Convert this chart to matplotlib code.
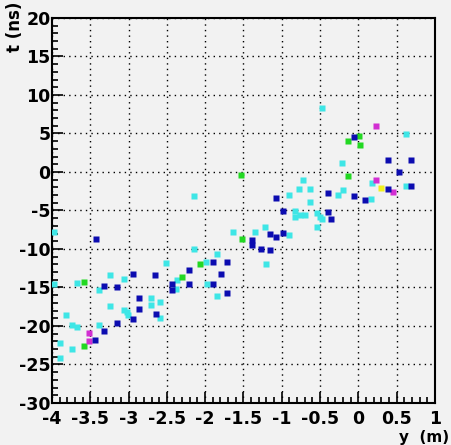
import matplotlib
matplotlib.use('Agg')
import matplotlib.pyplot as plt
from matplotlib.ticker import MultipleLocator

# hits, grouped by marker colour: position y (m) and time t (ns)
blue_y = [-3.43, -3.32, -3.15, -2.94, -2.66, -2.43, -2.43, -2.21, -2.21, -1.90,
          -1.79, -1.90, -1.72, -1.72, -3.44, -3.32, -3.15, -2.94, -2.86, -2.86,
          -2.64, -1.39, -1.39, -1.27, -1.15, -1.15, -1.08, -0.98, -1.08, -0.98,
          -0.40, -0.40, -0.35, -0.06, -0.06, 0.09, 0.39, 0.69, 0.53, 0.39, 0.69]
blue_t = [-8.7, -14.8, -14.9, -13.2, -13.4, -14.5, -15.3, -12.7, -14.5, -11.7,
          -13.2, -14.5, -11.7, -15.7, -21.8, -20.6, -19.6, -19.1, -16.4, -17.8,
          -18.4, -8.8, -9.5, -10.0, -10.1, -8.1, -8.4, -7.9, -3.4, -5.1,
          -2.7, -5.2, -6.1, 4.5, -3.1, -3.6, 1.6, 1.6, 0.0, -2.2, -1.8]

cyan_y = [-3.97, -3.97, -3.67, -3.39, -3.24, -3.06, -2.51, -2.38, -2.37, -2.15,
          -1.99, -1.85, -1.98, -1.85, -3.82, -3.74, -3.67, -3.90, -3.74, -3.90,
          -3.39, -3.24, -3.06, -3.02, -3.01, -2.71, -2.71, -2.59, -2.59, -2.15,
          -1.64, -1.35, -1.22, -0.91, -0.54, -1.21, -0.48, 0.62, -0.21, -0.72,
          -0.78, -0.63, -0.20, -0.27, -0.91, -0.63, -0.83, -0.83, -0.76, -0.70,
          -0.54, -0.50, -0.48, 0.18, 0.62, 0.16]
cyan_t = [-7.8, -14.5, -14.4, -15.3, -13.4, -13.9, -11.8, -15.2, -14.0, -10.0,
          -11.7, -10.6, -14.5, -16.1, -18.6, -19.9, -20.1, -22.2, -23.0, -24.2,
          -19.9, -17.4, -17.9, -18.2, -18.6, -16.4, -17.3, -16.9, -19.0, -3.1,
          -7.8, -7.8, -7.1, -8.2, -7.1, -11.9, 8.3, 4.9, 1.2, -1.0,
          -2.2, -2.2, -2.3, -3.0, -3.0, -3.9, -5.1, -5.8, -5.6, -5.6,
          -5.3, -5.8, -6.1, -1.4, -1.8, -3.5]

green_y = [-3.58, -3.58, -2.30, -2.07, -1.52, -1.53, -0.14, 0.01, 0.02, -0.14]
green_t = [-14.3, -22.6, -13.6, -11.9, -8.7, -0.4, 4.0, 4.7, 3.5, -0.5]

magenta_y = [-3.52, -3.52, 0.23, 0.23, 0.45]
magenta_t = [-20.9, -21.9, 6.0, -1.0, -2.6]

yellow_y = [0.30]
yellow_t = [-2.1]

bg = '#f2f2f2'
fig = plt.figure(figsize=(4.52, 4.45), dpi=100, facecolor=bg)
ax = fig.add_axes([0.115, 0.0944, 0.847, 0.8652], facecolor=bg)

groups = [(cyan_y, cyan_t, '#3ee6e6'), (green_y, green_t, '#22d822'),
          (yellow_y, yellow_t, '#f0f020'), (magenta_y, magenta_t, '#d22ed2'),
          (blue_y, blue_t, '#0c0cb0')]
for yy, tt, col in groups:
    ax.plot(yy, tt, 's', ms=5, color=col, mec='none', zorder=3)

ax.set_xlim(-4, 1)
ax.set_ylim(-30, 20)
ax.xaxis.set_minor_locator(MultipleLocator(0.1))
ax.yaxis.set_minor_locator(MultipleLocator(1))
ax.grid(True, which='major', color='black', ls=(0, (1, 3)), lw=1.0)

ax.tick_params(which='both', direction='in', top=False, right=False,
               width=1.2, color='black')
ax.tick_params(which='major', length=8, labelsize=12.5)
ax.tick_params(axis='x', which='major', pad=5)
ax.tick_params(axis='y', which='major', pad=1)
ax.tick_params(which='minor', length=4.5)
ax.set_xticks([-4, -3.5, -3, -2.5, -2, -1.5, -1, -0.5, 0, 0.5, 1])
ax.set_xticklabels(['-4', '-3.5', '-3', '-2.5', '-2', '-1.5', '-1', '-0.5',
                    '0', '0.5', '1'], fontweight='bold')
ax.set_yticks(range(-30, 21, 5))
ax.set_yticklabels([str(v) for v in range(-30, 21, 5)], fontweight='bold')
for s in ax.spines.values():
    s.set_linewidth(1.5)
    s.set_color('black')

fig.text(15 / 452, 1 - 27 / 445, 't (ns)', rotation=90, ha='center',
         va='center', fontsize=12, fontweight='bold')
fig.text(449 / 452, 0, 'y  (m)', ha='right', va='bottom',
         fontsize=11, fontweight='bold')

fig.savefig('out.png', dpi=100, facecolor=bg)
